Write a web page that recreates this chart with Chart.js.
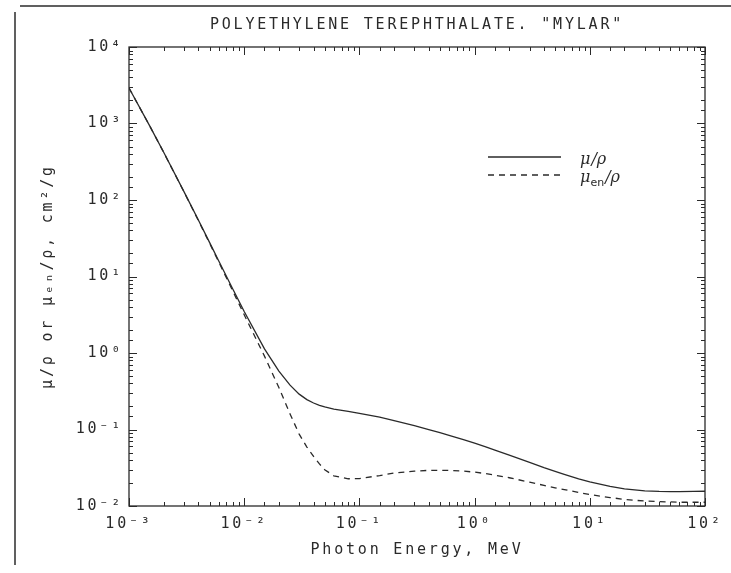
<!DOCTYPE html>
<html>
<head>
<meta charset="utf-8">
<script src="https://cdn.jsdelivr.net/npm/chart.js@4.4.1/dist/chart.umd.min.js"></script>
<style>
  body { margin: 0; background: #fff; }
  #wrap { position: relative; width: 731px; height: 573px; }
  .rule { position: absolute; background: #606060; }
</style>
</head>
<body>
<div id="wrap">
  <canvas id="chart" width="731" height="573"></canvas>
  <div class="rule" style="left:20px; top:5px; width:711px; height:2px;"></div>
  <div class="rule" style="left:14px; top:12px; width:2px; height:553px;"></div>
</div>
<script>
// photon energy, MeV
const energy = [0.001, 0.0015, 0.002, 0.003, 0.004, 0.005, 0.006, 0.008, 0.01, 0.015,
  0.02, 0.025, 0.03, 0.035, 0.04, 0.045, 0.05, 0.06, 0.08, 0.1,
  0.15, 0.2, 0.3, 0.4, 0.5, 0.6, 0.8, 1, 1.25, 1.5,
  2, 3, 4, 5, 6, 8, 10, 15, 20, 30,
  40, 50, 60, 80, 100];

// mu/rho, cm2/g
const muRho = [2911, 953.6, 420.6, 128.8, 54.66, 27.92, 16.08, 6.75, 3.481, 1.132,
  0.58, 0.38, 0.29, 0.246, 0.222, 0.207, 0.197, 0.185, 0.1725, 0.162,
  0.145, 0.131, 0.112, 0.0997, 0.0908, 0.0839, 0.0737, 0.0663, 0.0593, 0.0539,
  0.0463, 0.0373, 0.0318, 0.0284, 0.0259, 0.0226, 0.0206, 0.018, 0.0167, 0.0158,
  0.0155, 0.0154, 0.0154, 0.0155, 0.0156];

// mu_en/rho, cm2/g
const muEnRho = [2909, 952.2, 419.5, 128.0, 53.98, 27.36, 15.61, 6.363, 3.161, 0.91,
  0.353, 0.16, 0.087, 0.059, 0.0445, 0.0355, 0.0298, 0.0248, 0.0227, 0.0228,
  0.025, 0.027, 0.0286, 0.0292, 0.0293, 0.0292, 0.0286, 0.0277, 0.0265, 0.0253,
  0.0234, 0.0205, 0.0186, 0.0173, 0.0164, 0.015, 0.0141, 0.0129, 0.0122, 0.0116,
  0.0114, 0.0113, 0.0112, 0.0112, 0.0112];

const xRange = [1e-3, 1e2];
const yRange = [1e-2, 1e4];

const INK = "#2a2a2a";
const FONT = "'DejaVu Sans Mono', monospace";
const SUP = { "-": "\u207B", "0": "\u2070", "1": "\u00B9", "2": "\u00B2", "3": "\u00B3", "4": "\u2074" };

const decadeOf = (v) => {
  const e = Math.round(Math.log10(v));
  return Math.abs(Math.log10(v) - e) < 1e-6 ? e : null;
};
const powerLabel = (v) => {
  const e = decadeOf(v);
  if (e === null) return "";
  return "10" + String(e).split("").map((c) => SUP[c]).join("");
};

const pts = (ys) => energy.map((e, i) => ({ x: e, y: ys[i] }));

// inward ticks on all four sides, box, and the legend inside the plot
const boxPlugin = {
  id: "boxPlugin",
  beforeDraw(chart) {
    chart.ctx.letterSpacing = "2.8px";
  },
  afterDatasetsDraw(chart) {
    const { ctx, chartArea: a, scales } = chart;
    ctx.save();
    ctx.strokeStyle = INK;
    ctx.lineWidth = 1.3;
    ctx.strokeRect(a.left, a.top, a.right - a.left, a.bottom - a.top);

    ctx.lineWidth = 1;
    ctx.beginPath();
    scales.x.ticks.forEach((t) => {
      const px = Math.round(scales.x.getPixelForValue(t.value)) + 0.5;
      const len = decadeOf(t.value) === null ? 4 : 8;
      ctx.moveTo(px, a.bottom); ctx.lineTo(px, a.bottom - len);
      ctx.moveTo(px, a.top); ctx.lineTo(px, a.top + len);
    });
    scales.y.ticks.forEach((t) => {
      const py = Math.round(scales.y.getPixelForValue(t.value)) + 0.5;
      const len = decadeOf(t.value) === null ? 4 : 8;
      ctx.moveTo(a.left, py); ctx.lineTo(a.left + len, py);
      ctx.moveTo(a.right, py); ctx.lineTo(a.right - len, py);
    });
    ctx.stroke();

    // legend
    const lx = 488, lw = 73, tx = 580;
    chart.data.datasets.forEach((ds, i) => {
      const ly = 157 + i * 18;
      ctx.strokeStyle = ds.borderColor;
      ctx.lineWidth = ds.borderWidth;
      ctx.setLineDash(ds.borderDash || []);
      ctx.beginPath();
      ctx.moveTo(lx, ly); ctx.lineTo(lx + lw, ly);
      ctx.stroke();
      ctx.setLineDash([]);

      ctx.letterSpacing = "0px";
      ctx.fillStyle = INK;
      ctx.textBaseline = "alphabetic";
      ctx.textAlign = "left";
      const base = ly + 7;
      let x = tx;
      ctx.font = "italic 16px 'DejaVu Serif'";
      ctx.fillText("\u03BC", x, base);
      x += ctx.measureText("\u03BC").width;
      if (i === 1) {
        ctx.font = "11px 'DejaVu Sans'";
        ctx.fillText("en", x, base + 4);
        x += ctx.measureText("en").width;
        ctx.font = "italic 16px 'DejaVu Serif'";
      }
      ctx.fillText("/\u03C1", x + 1, base);
    });
    ctx.restore();
  },
};

new Chart(document.getElementById("chart"), {
  type: "line",
  data: {
    datasets: [
      {
        label: "\u03BC/\u03C1",
        data: pts(muRho),
        borderColor: INK,
        borderWidth: 1.3,
        pointRadius: 0,
        tension: 0,
      },
      {
        label: "\u03BCen/\u03C1",
        data: pts(muEnRho),
        borderColor: INK,
        borderWidth: 1.3,
        borderDash: [6, 5],
        pointRadius: 0,
        tension: 0,
      },
    ],
  },
  options: {
    responsive: false,
    animation: false,
    layout: { padding: { left: 0, right: 26, top: 0, bottom: 0 } },
    plugins: {
      legend: { display: false },
      tooltip: { enabled: false },
      title: {
        display: true,
        fullSize: false,
        text: 'POLYETHYLENE TEREPHTHALATE. "MYLAR"',
        color: INK,
        font: { family: FONT, size: 15, weight: "normal" },
        padding: { top: 16, bottom: 13 },
      },
    },
    scales: {
      x: {
        type: "logarithmic",
        min: xRange[0],
        max: xRange[1],
        grid: { display: false, drawTicks: false },
        border: { display: false },
        ticks: {
          autoSkip: false,
          maxRotation: 0,
          minRotation: 0,
          padding: 9,
          color: INK,
          font: { family: FONT, size: 15 },
          callback: (v) => powerLabel(v),
        },
        title: {
          display: true,
          text: "Photon Energy, MeV",
          color: INK,
          font: { family: FONT, size: 15 },
          padding: { top: 0, bottom: 14 },
        },
        afterFit: (s) => { s.height = 67; },
      },
      y: {
        type: "logarithmic",
        min: yRange[0],
        max: yRange[1],
        grid: { display: false, drawTicks: false },
        border: { display: false },
        ticks: {
          autoSkip: false,
          padding: 6,
          color: INK,
          font: { family: FONT, size: 15 },
          callback: (v) => powerLabel(v),
        },
        title: {
          display: true,
          text: "\u03BC/\u03C1 or \u03BC\u2091\u2099/\u03C1, cm\u00B2/g",
          color: INK,
          font: { family: FONT, size: 15 },
          padding: { top: 39, bottom: 0 },
        },
        afterFit: (s) => { s.width = 129; },
      },
    },
  },
  plugins: [boxPlugin],
});
</script>
</body>
</html>
